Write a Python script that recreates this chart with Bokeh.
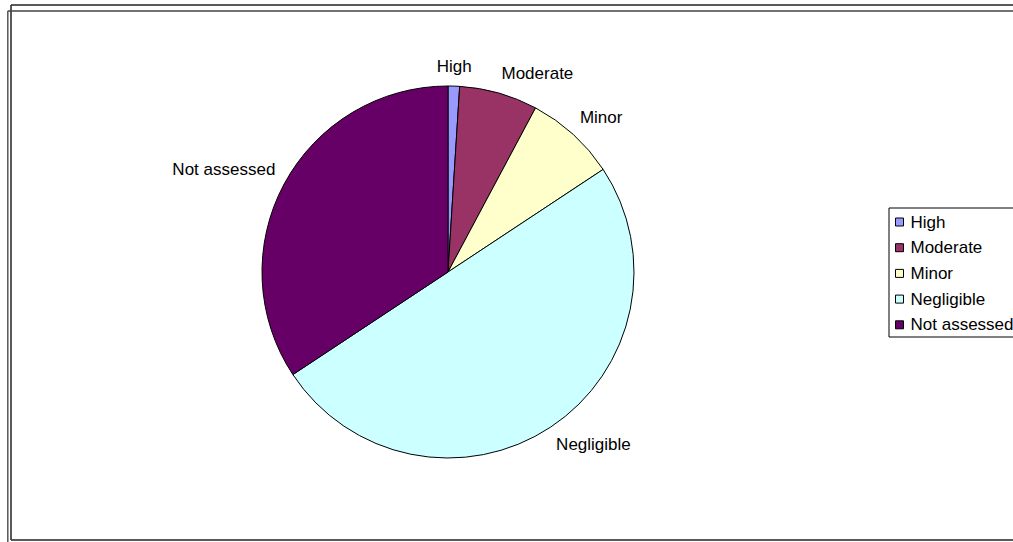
import math
from bokeh.plotting import figure
from bokeh.models import Range1d, ColumnDataSource
from bokeh.core.properties import value
from bokeh.embed import file_html
from bokeh.resources import INLINE

# ---- data ----
categories = ["High", "Moderate", "Minor", "Negligible", "Not assessed"]
shares = [1.0, 6.8, 7.9, 50.0, 34.3]
colors = ["#9999FF", "#993366", "#FFFFCC", "#CCFFFF", "#660066"]

# ---- layout (page pixel space, y measured upward from page bottom) ----
W, H = 1013, 542
PAGE_H = 542
cx, cy = 447.5, PAGE_H - 271.5
R = 186
FONT = value("Liberation Sans")
FS = "17px"

p = figure(width=W, height=H, output_backend="svg", toolbar_location=None,
           x_range=Range1d(0, W), y_range=Range1d(0, H),
           min_border=0, min_border_left=0, min_border_right=0,
           min_border_top=0, min_border_bottom=0)
p.axis.visible = False
p.grid.visible = False
p.outline_line_color = None
p.background_fill_color = "white"
p.border_fill_color = "white"

total = sum(shares)
starts, ends, mids = [], [], []
cum = 0.0
for s in shares:
    a0 = cum / total
    cum += s
    a1 = cum / total
    starts.append(math.pi / 2 - 2 * math.pi * a0)
    ends.append(math.pi / 2 - 2 * math.pi * a1)
    mids.append(2 * math.pi * (a0 + a1) / 2)  # clockwise from top

src = ColumnDataSource(dict(cat=categories, start=starts, end=ends, color=colors))
p.wedge(x=cx, y=cy, radius=R, radius_units="screen", start_angle="start", end_angle="end",
        direction="clock", fill_color="color", line_color="black", line_width=1, source=src)

# labels outside the pie
gap = 10
lx, ly, la, lb = [], [], [], []
for th in mids:
    sx, sy = math.sin(th), math.cos(th)
    lx.append(cx + (R + gap) * sx)
    ly.append(cy + (R + gap) * sy)
    la.append("left" if sx > 0.1 else ("right" if sx < -0.1 else "center"))
    lb.append("bottom" if sy > 0.1 else ("top" if sy < -0.1 else "middle"))
lsrc = ColumnDataSource(dict(x=lx, y=ly, t=categories, a=la, b=lb))
p.text(x="x", y="y", text="t", text_align="a", text_baseline="b", source=lsrc,
       text_font=FONT, text_font_size=FS, text_color="black")

# legend (drawn manually, runs off the right edge like the reference)
leg_left, leg_top, leg_bottom = 888.5, PAGE_H - 207.5, PAGE_H - 336.5
p.quad(left=leg_left, right=1030, top=leg_top, bottom=leg_bottom,
       fill_color="white", line_color="black", line_width=1)
step = 25.7
ey = [leg_top - 14 - i * step for i in range(len(categories))]
p.rect(x=[899] * len(categories), y=ey, width=8, height=8, width_units="screen",
       height_units="screen", fill_color=colors, line_color="black", line_width=1)
p.text(x=[910] * len(categories), y=ey, text=categories, text_align="left",
       text_baseline="middle", text_font=FONT, text_font_size=FS, text_color="black")

# double frame border
p.line(x=[10.5, 10.5], y=[PAGE_H - 4.5, PAGE_H - 539.5], line_color="#222222", line_width=1.5)
p.line(x=[10.5, 1013], y=[PAGE_H - 4.5, PAGE_H - 4.5], line_color="#222222", line_width=1.5)
p.line(x=[10.5, 1013], y=[PAGE_H - 539.5, PAGE_H - 539.5], line_color="#222222", line_width=1.5)
p.line(x=[7.3, 7.3], y=[PAGE_H - 10.5, 0], line_color="#555555", line_width=1.5)
p.line(x=[7.3, 1013], y=[PAGE_H - 10.5, PAGE_H - 10.5], line_color="#444444", line_width=1.5)

open("out.html", "w").write(file_html(p, INLINE))
